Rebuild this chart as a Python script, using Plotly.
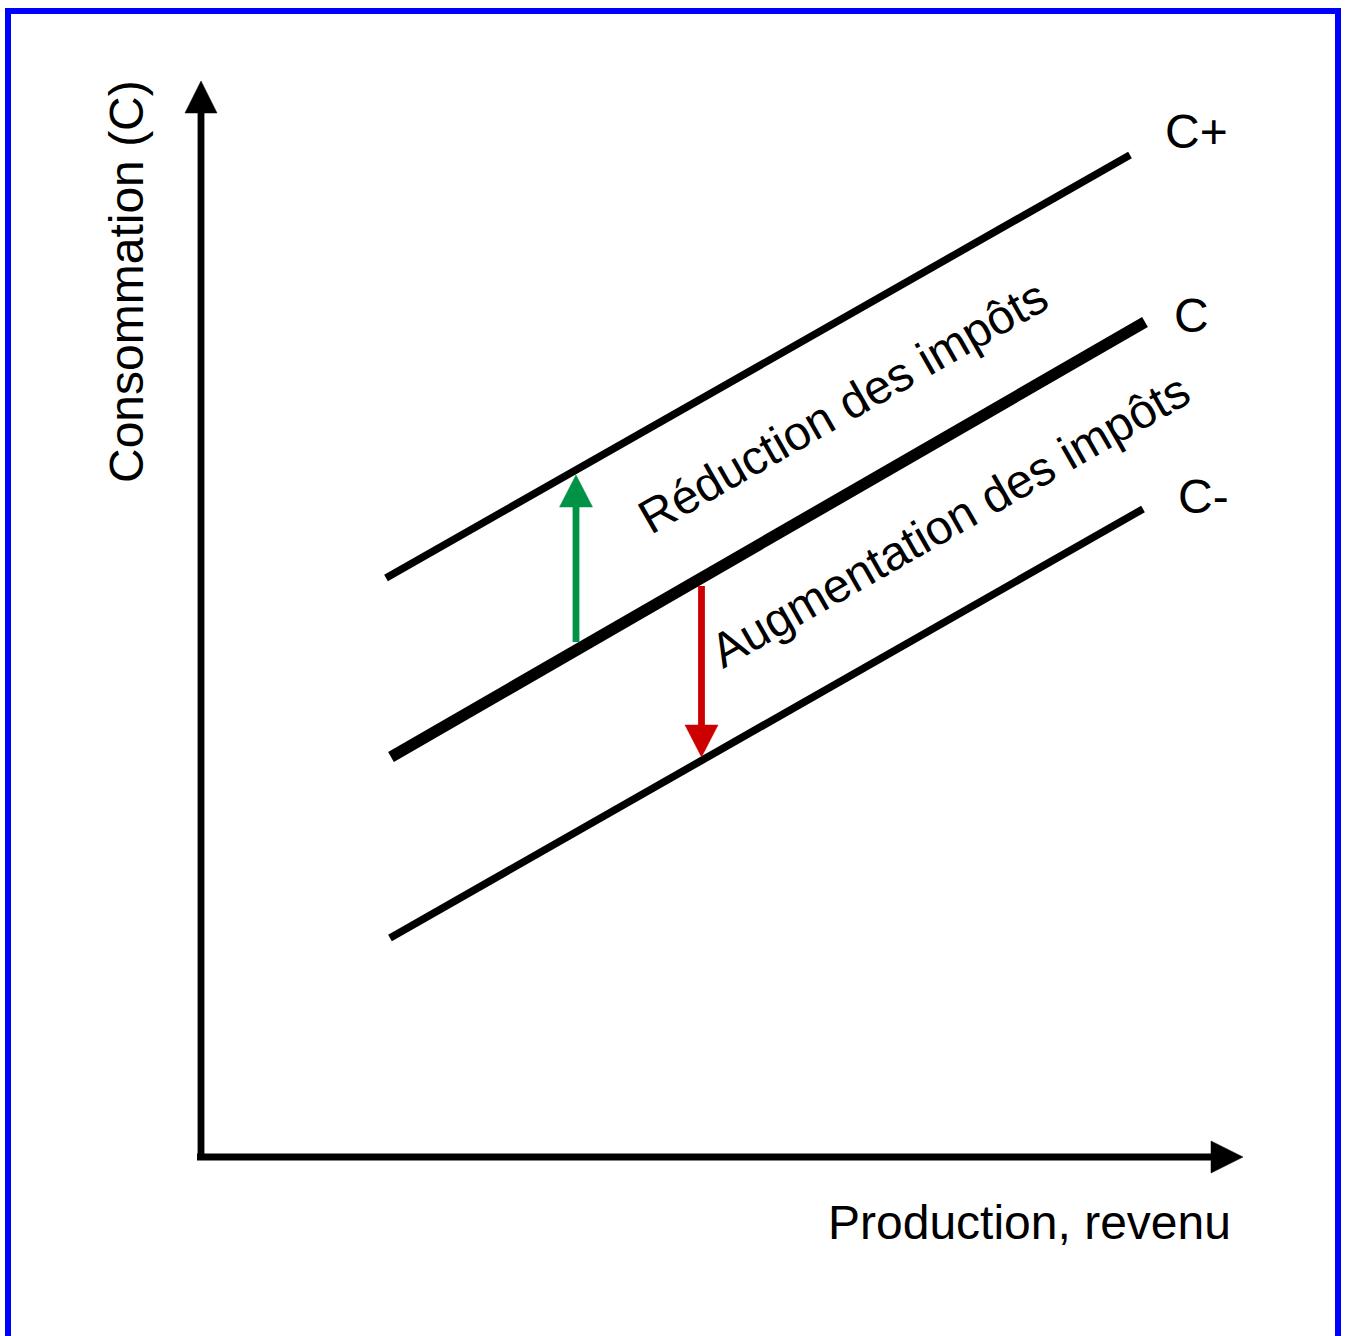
import plotly.graph_objects as go
import math

# ---- data (units: income / consumption, origin at the axes corner) ----
c_plus_x = [1.85, 9.29]
c_plus_y = [5.79, 10.02]
c_mid_x = [1.90, 9.44]
c_mid_y = [4.00, 8.35]
c_minus_x = [1.89, 9.42]
c_minus_y = [2.19, 6.48]

curve_labels = ["C+", "C", "C-"]
curve_label_x = [9.95, 9.90, 10.02]
curve_label_y = [10.26, 8.42, 6.61]

# tax shift arrows: x, start y, tip y
green_arrow = [3.75, 5.15, 6.82]
red_arrow = [5.005, 5.71, 4.00]

# axes: end points
x_axis_end = 10.42
y_axis_end = 10.76

shift_texts = ["Réduction des impôts", "Augmentation des impôts"]
shift_text_x = [6.42, 7.49]
shift_text_y = [7.51, 6.37]
shift_angle = -29.7

x_title = "Production, revenu"
y_title = "Consommation (C)"

FONT = "Liberation Sans, Arial, sans-serif"
FS = 48

fig = go.Figure()


def add_arrow(x0, y0, x1, y1, color, width, head_len, head_w):
    dx, dy = x1 - x0, y1 - y0
    L = math.hypot(dx, dy)
    ux, uy = dx / L, dy / L
    bx, by = x1 - ux * head_len, y1 - uy * head_len
    # shaft (slightly into the head)
    fig.add_trace(go.Scatter(
        x=[x0, bx + ux * 0.02], y=[y0, by + uy * 0.02], mode="lines",
        line=dict(color=color, width=width), hoverinfo="skip", showlegend=False))
    px, py = -uy, ux
    hx = [x1, bx + px * head_w / 2, bx - px * head_w / 2, x1]
    hy = [y1, by + py * head_w / 2, by - py * head_w / 2, y1]
    fig.add_trace(go.Scatter(
        x=hx, y=hy, mode="lines", fill="toself", fillcolor=color,
        line=dict(color=color, width=0.5), hoverinfo="skip", showlegend=False))


# axes
add_arrow(-0.04, 0, x_axis_end, 0, "black", 6.8, 0.32, 0.32)
add_arrow(0, -0.03, 0, y_axis_end, "black", 6.8, 0.32, 0.32)

# consumption curves
for xs, ys, w in [(c_plus_x, c_plus_y, 7.5), (c_mid_x, c_mid_y, 11.5), (c_minus_x, c_minus_y, 7.5)]:
    fig.add_trace(go.Scatter(x=xs, y=ys, mode="lines", line=dict(color="black", width=w),
                             hoverinfo="skip", showlegend=False))

# tax arrows
add_arrow(green_arrow[0], green_arrow[1], green_arrow[0], green_arrow[2], "#009245", 6.8, 0.32, 0.33)
add_arrow(red_arrow[0], red_arrow[1], red_arrow[0], red_arrow[2], "#cc0000", 6.8, 0.32, 0.33)

annotations = []
for t, x, y in zip(curve_labels, curve_label_x, curve_label_y):
    annotations.append(dict(x=x, y=y, xref="x", yref="y", text=t, showarrow=False,
                            xanchor="center", yanchor="middle",
                            font=dict(family=FONT, size=FS, color="black")))
for t, x, y in zip(shift_texts, shift_text_x, shift_text_y):
    annotations.append(dict(x=x, y=y, xref="x", yref="y", text=t, showarrow=False,
                            textangle=shift_angle, xanchor="center", yanchor="middle",
                            font=dict(family=FONT, size=FS, color="black")))
annotations.append(dict(x=10.32, y=-0.65, xref="x", yref="y", text=x_title, showarrow=False,
                        xanchor="right", yanchor="middle",
                        font=dict(family=FONT, size=FS, color="black")))
annotations.append(dict(x=-0.75, y=8.75, xref="x", yref="y", text=y_title, showarrow=False,
                        textangle=-90, xanchor="center", yanchor="middle",
                        font=dict(family=FONT, size=FS, color="black")))

fig.update_layout(
    width=1346, height=1336,
    margin=dict(l=0, r=0, t=0, b=0),
    paper_bgcolor="white", plot_bgcolor="white",
    xaxis=dict(range=[-2.01, 11.45], visible=False, fixedrange=True),
    yaxis=dict(range=[-1.79, 11.57], visible=False, fixedrange=True),
    annotations=annotations,
    shapes=[dict(type="rect", xref="paper", yref="paper",
                 x0=8 / 1346, x1=1338 / 1346, y0=-0.02, y1=1 - 11 / 1336,
                 line=dict(color="#0000ff", width=6), fillcolor="rgba(0,0,0,0)", layer="above")],
)

fig.write_html("out.html", config={"displayModeBar": False},
               post_script="document.body.style.margin='0';document.body.style.overflow='hidden';")
